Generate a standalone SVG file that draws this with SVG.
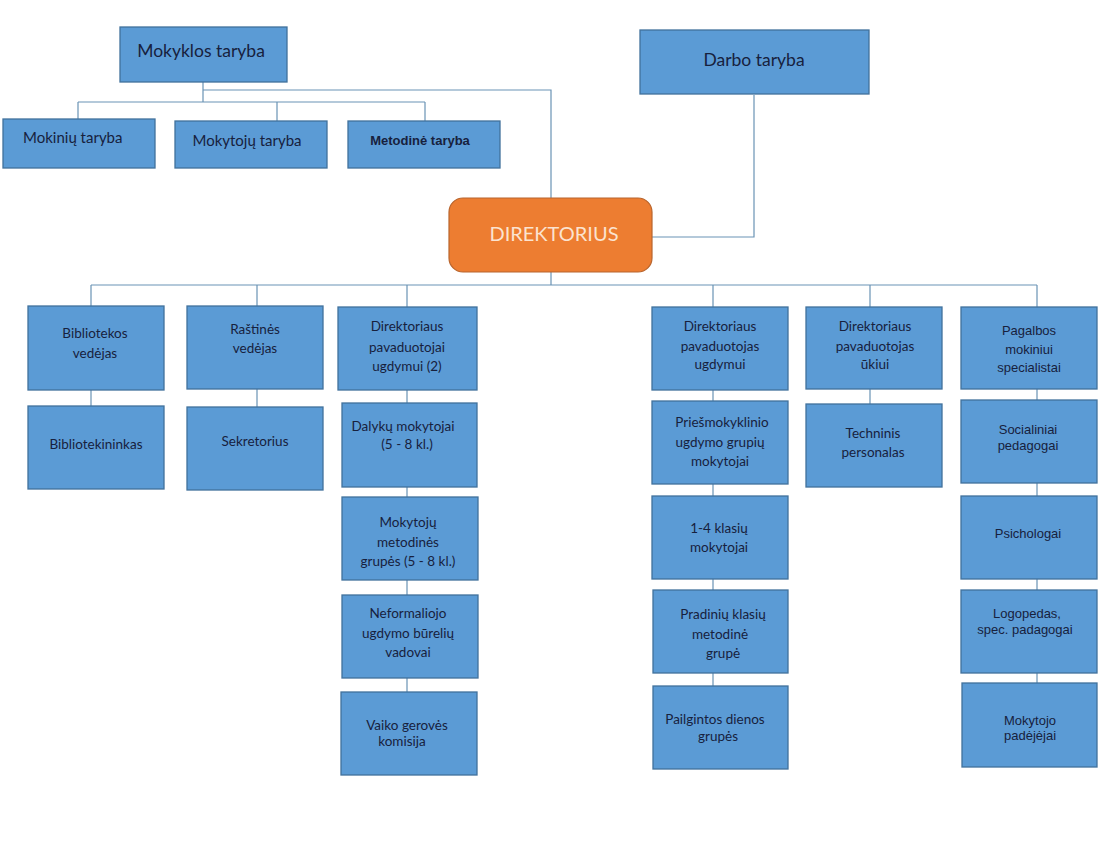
<svg xmlns="http://www.w3.org/2000/svg" width="1107" height="868" viewBox="0 0 1107 868">
<style>
.box{fill:#5B9BD5;stroke:#41719C;stroke-width:1.3}
.dir{fill:#ED7D31;stroke:#B8652E;stroke-width:1.2}
.c{fill:none;stroke:#6A93B5;stroke-width:1.2}
.t{font-family:Lato,"Open Sans",sans-serif;font-size:13.5px;fill:#17213D;text-anchor:middle}
.a{font-family:"Liberation Sans",Arial,sans-serif;font-size:13px;fill:#17213D;text-anchor:middle}
.big{font-family:Lato,"Open Sans",sans-serif;font-size:17.5px;fill:#17213D;text-anchor:middle}
.mid{font-family:Lato,"Open Sans",sans-serif;font-size:15px;fill:#17213D}
</style>
<rect width="1107" height="868" fill="#FFFFFF"/>
<g id="connectors">
<path class="c" d="M203,82 V102 M203,90 H551 V198 M78,102 H425 M78,102 V119 M277,102 V121 M425,102 V121"/>
<path class="c" d="M754,95 V237 H652"/>
<path class="c" d="M551,272 V285 M91,285 H1037 M91,285 V306 M257,285 V306 M407,285 V307 M713,285 V307 M870,285 V307 M1037,285 V307"/>
<path class="c" d="M91,390 V406 M257,389 V407 M407,390 V692 M713,390 V686 M870,389 V404 M1037,389 V683"/>
</g>
<g id="mokyklos-taryba"><rect class="box" x="120" y="27" width="167" height="55"/><text class="big" x="201" y="57">Mokyklos taryba</text></g>
<g id="mokiniu-taryba"><rect class="box" x="3" y="119" width="152" height="49"/><text class="mid" x="23" y="143">Mokinių taryba</text></g>
<g id="mokytoju-taryba"><rect class="box" x="175" y="121" width="152" height="47"/><text class="mid" x="247" y="146" text-anchor="middle">Mokytojų taryba</text></g>
<g id="metodine-taryba"><rect class="box" x="348" y="121" width="152" height="47"/><text class="a" x="420" y="145" font-weight="bold" font-size="13.5">Metodinė taryba</text></g>
<g id="darbo-taryba"><rect class="box" x="640" y="30" width="229" height="64"/><text class="big" x="754" y="66">Darbo taryba</text></g>
<g id="direktorius"><rect class="dir" x="449" y="198" width="203" height="74" rx="14"/><text x="554" y="241" font-family="Lato,'Open Sans',sans-serif" font-size="20" fill="#FBE3D0" text-anchor="middle">DIREKTORIUS</text></g>

<g id="bibliotekos-vedejas"><rect class="box" x="28" y="306" width="136" height="84"/><text class="t" x="95" y="338">Bibliotekos</text><text class="t" x="95" y="358">vedėjas</text></g>
<g id="bibliotekininkas"><rect class="box" x="28" y="406" width="136" height="83"/><text class="t" x="96" y="449">Bibliotekininkas</text></g>
<g id="rastines-vedejas"><rect class="box" x="187" y="306" width="136" height="83"/><text class="t" x="255" y="334">Raštinės</text><text class="t" x="255" y="353">vedėjas</text></g>
<g id="sekretorius"><rect class="box" x="187" y="407" width="136" height="83"/><text class="t" x="255" y="446">Sekretorius</text></g>

<g id="pavaduotojai-ugdymui-2"><rect class="box" x="338" y="307" width="139" height="83"/><text class="t" x="407" y="331">Direktoriaus</text><text class="t" x="407" y="352">pavaduotojai</text><text class="t" x="407" y="371">ugdymui (2)</text></g>
<g id="dalyku-mokytojai"><rect class="box" x="342" y="403" width="135" height="84"/><text class="t" x="403" y="431">Dalykų mokytojai</text><text class="t" x="407" y="449">(5 - 8 kl.)</text></g>
<g id="metodines-grupes"><rect class="box" x="342" y="497" width="136" height="83"/><text class="t" x="408" y="527">Mokytojų</text><text class="t" x="408" y="547">metodinės</text><text class="t" x="408" y="566">grupės (5 - 8 kl.)</text></g>
<g id="neformaliojo"><rect class="box" x="342" y="595" width="136" height="83"/><text class="t" x="408" y="618">Neformaliojo</text><text class="t" x="408" y="638">ugdymo būrelių</text><text class="t" x="408" y="657">vadovai</text></g>
<g id="vaiko-geroves"><rect class="box" x="341" y="692" width="136" height="83"/><text class="t" x="407" y="730">Vaiko gerovės</text><text class="t" x="402" y="746">komisija</text></g>

<g id="pavaduotojas-ugdymui"><rect class="box" x="652" y="307" width="136" height="83"/><text class="t" x="720" y="331">Direktoriaus</text><text class="t" x="720" y="351">pavaduotojas</text><text class="t" x="720" y="369">ugdymui</text></g>
<g id="priesmokyklinio"><rect class="box" x="652" y="401" width="136" height="83"/><text class="t" x="722" y="427">Priešmokyklinio</text><text class="t" x="720" y="447">ugdymo grupių</text><text class="t" x="720" y="466">mokytojai</text></g>
<g id="klasiu-1-4"><rect class="box" x="652" y="496" width="136" height="83"/><text class="t" x="719" y="533">1-4 klasių</text><text class="t" x="719" y="552">mokytojai</text></g>
<g id="pradiniu-metodine"><rect class="box" x="653" y="590" width="135" height="83"/><text class="t" x="723" y="619">Pradinių klasių</text><text class="t" x="720" y="639">metodinė</text><text class="t" x="723" y="658">grupė</text></g>
<g id="pailgintos"><rect class="box" x="653" y="686" width="135" height="83"/><text class="t" x="715" y="724">Pailgintos dienos</text><text class="t" x="718" y="741">grupės</text></g>

<g id="pavaduotojas-ukiui"><rect class="box" x="806" y="307" width="136" height="82"/><text class="t" x="875" y="331">Direktoriaus</text><text class="t" x="875" y="351">pavaduotojas</text><text class="t" x="875" y="369">ūkiui</text></g>
<g id="techninis"><rect class="box" x="806" y="404" width="136" height="83"/><text class="t" x="873" y="438">Techninis</text><text class="t" x="873" y="457">personalas</text></g>

<g id="pagalbos"><rect class="box" x="961" y="307" width="136" height="82"/><text class="a" x="1029" y="335">Pagalbos</text><text class="a" x="1029" y="354">mokiniui</text><text class="a" x="1029" y="372">specialistai</text></g>
<g id="socialiniai"><rect class="box" x="961" y="400" width="136" height="83"/><text class="a" x="1028" y="434">Socialiniai</text><text class="a" x="1028" y="450">pedagogai</text></g>
<g id="psichologai"><rect class="box" x="961" y="496" width="136" height="83"/><text class="a" x="1028" y="538">Psichologai</text></g>
<g id="logopedas"><rect class="box" x="961" y="590" width="136" height="83"/><text class="a" x="1027" y="618">Logopedas,</text><text class="a" x="1025" y="634">spec. padagogai</text></g>
<g id="mokytojo-padejejai"><rect class="box" x="962" y="683" width="135" height="84"/><text class="a" x="1030" y="725">Mokytojo</text><text class="a" x="1030" y="740">padėjėjai</text></g>
</svg>
